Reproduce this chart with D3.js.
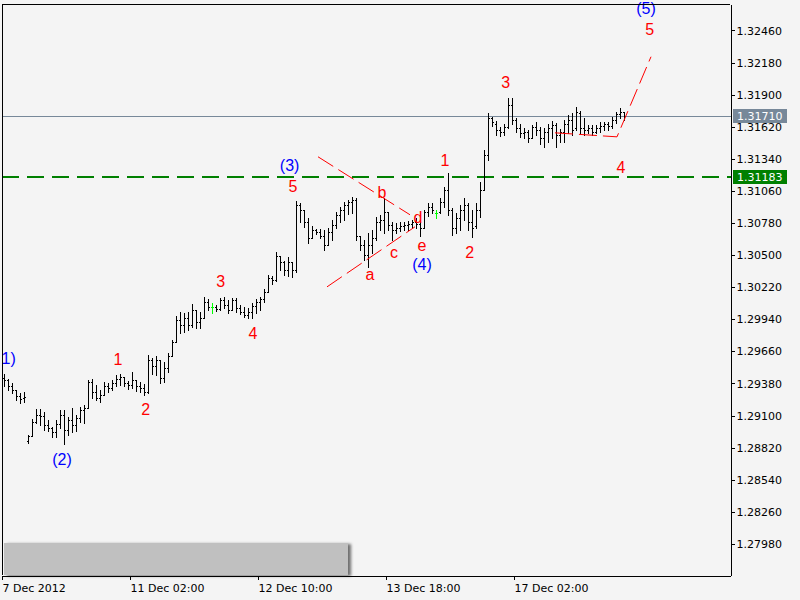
<!DOCTYPE html>
<html><head><meta charset="utf-8">
<script src="https://cdn.jsdelivr.net/npm/d3@7"></script>
<style>
html,body{margin:0;padding:0;background:#f4f4f4;}
svg{display:block;}
</style></head><body>
<svg id="chart" width="800" height="600"></svg>
<script>
// ---------- DATA ----------
const timeLabels = ["7 Dec 2012", "11 Dec 02:00", "12 Dec 10:00", "13 Dec 18:00", "17 Dec 02:00"];
const timeTickIndex = [0, 32, 64, 96, 128];
const priceTicks = [1.27980, 1.28260, 1.28540, 1.28820, 1.29100, 1.29380, 1.29660, 1.29940,
  1.30220, 1.30500, 1.30780, 1.31060, 1.31340, 1.31620, 1.31900, 1.32180, 1.32460];

const open = [
1.29429,1.29411,1.29359,1.29324,1.29272,1.29254,
1.28879,1.28923,1.29045,1.29106,1.29097,1.29019,1.28992,1.28958,1.29027,1.29106,
1.28975,1.29062,1.29019,1.29080,1.29150,1.29167,1.29394,1.29307,1.29254,1.29280,
1.29359,1.29342,1.29385,1.29420,1.29438,1.29385,1.29368,1.29411,1.29359,1.29342,
1.29307,1.29586,1.29534,1.29586,1.29429,1.29516,1.29621,1.29743,1.29935,1.29891,
1.29953,1.29891,1.30022,1.29918,1.29953,1.30092,1.30049,1.30049,1.30031,1.30110,
1.30066,1.30022,1.30110,1.30040,1.30005,1.29979,1.30005,1.30057,1.30092,1.30118,
1.30179,1.30302,1.30284,1.30494,1.30441,1.30371,1.30441,1.30371,1.30939,1.30895,
1.30790,1.30651,1.30721,1.30703,1.30668,1.30590,1.30703,1.30764,1.30852,1.30895,
1.30939,1.30965,1.30982,1.30668,1.30590,1.30502,1.30590,1.30651,1.30790,1.30808,
1.30878,1.30764,1.30721,1.30738,1.30755,1.30764,1.30773,1.30790,1.30773,1.30738,
1.30878,1.30921,1.30869,1.30878,1.30965,1.31070,1.30895,1.30738,1.30825,1.30895,
1.30939,1.30790,1.30755,1.30895,1.31070,1.31375,1.31698,1.31646,1.31593,1.31576,
1.31620,1.31812,1.31681,1.31611,1.31567,1.31576,1.31524,1.31620,1.31593,1.31524,
1.31576,1.31611,1.31637,1.31550,1.31576,1.31646,1.31681,1.31611,1.31742,1.31611,
1.31593,1.31611,1.31576,1.31611,1.31628,1.31646,1.31628,1.31681,1.31733,1.31750];

const high = [
1.29464,1.29420,1.29385,1.29324,1.29298,1.29307,
1.28931,1.29071,1.29158,1.29158,1.29132,1.29062,1.29001,1.29062,1.29150,1.29150,
1.29088,1.29167,1.29106,1.29176,1.29193,1.29411,1.29420,1.29368,1.29324,1.29394,
1.29385,1.29411,1.29455,1.29464,1.29438,1.29403,1.29481,1.29411,1.29394,1.29376,
1.29630,1.29603,1.29621,1.29586,1.29569,1.29647,1.29761,1.29970,1.30005,1.29996,
1.30005,1.30075,1.30022,1.30005,1.30136,1.30118,1.30083,1.30066,1.30127,1.30136,
1.30110,1.30127,1.30127,1.30066,1.30049,1.30040,1.30083,1.30118,1.30136,1.30206,
1.30328,1.30319,1.30529,1.30494,1.30450,1.30485,1.30441,1.30974,1.30956,1.30895,
1.30825,1.30755,1.30729,1.30729,1.30721,1.30738,1.30808,1.30878,1.30921,1.30965,
1.30982,1.31009,1.31000,1.30668,1.30633,1.30694,1.30721,1.30834,1.30852,1.31000,
1.30878,1.30790,1.30782,1.30790,1.30790,1.30799,1.30808,1.30825,1.30808,1.30895,
1.30956,1.30956,1.30895,1.31000,1.31096,1.31218,1.30913,1.30869,1.30939,1.31000,
1.30956,1.30895,1.30956,1.31140,1.31419,1.31742,1.31707,1.31672,1.31620,1.31646,
1.31873,1.31873,1.31698,1.31646,1.31611,1.31593,1.31637,1.31663,1.31620,1.31611,
1.31646,1.31672,1.31654,1.31602,1.31681,1.31724,1.31742,1.31794,1.31759,1.31698,
1.31637,1.31637,1.31637,1.31663,1.31663,1.31663,1.31707,1.31750,1.31785,1.31750];

const low = [
1.29359,1.29324,1.29298,1.29237,1.29211,1.29219,
1.28862,1.28923,1.29036,1.29019,1.28975,1.28966,1.28914,1.28914,1.28992,1.28853,
1.28931,1.28958,1.28966,1.29045,1.29036,1.29167,1.29254,1.29237,1.29219,1.29280,
1.29307,1.29324,1.29359,1.29368,1.29359,1.29333,1.29342,1.29315,1.29307,1.29280,
1.29298,1.29464,1.29455,1.29385,1.29394,1.29481,1.29621,1.29743,1.29822,1.29830,
1.29848,1.29874,1.29865,1.29865,1.29953,1.30022,1.29996,1.30014,1.30022,1.30040,
1.29996,1.30022,1.30005,1.29987,1.29961,1.29953,1.29953,1.29996,1.30022,1.30092,
1.30179,1.30249,1.30275,1.30371,1.30328,1.30319,1.30310,1.30354,1.30790,1.30747,
1.30607,1.30651,1.30686,1.30651,1.30546,1.30590,1.30633,1.30738,1.30790,1.30808,
1.30860,1.30869,1.30633,1.30546,1.30459,1.30398,1.30520,1.30633,1.30721,1.30694,
1.30721,1.30633,1.30694,1.30712,1.30721,1.30721,1.30738,1.30738,1.30668,1.30738,
1.30843,1.30869,1.30825,1.30869,1.30921,1.30852,1.30677,1.30694,1.30721,1.30808,
1.30721,1.30659,1.30738,1.30834,1.31070,1.31332,1.31628,1.31550,1.31541,1.31550,
1.31611,1.31646,1.31576,1.31532,1.31524,1.31489,1.31524,1.31550,1.31471,1.31445,
1.31489,1.31524,1.31445,1.31489,1.31489,1.31567,1.31550,1.31593,1.31567,1.31550,
1.31567,1.31550,1.31567,1.31576,1.31593,1.31593,1.31611,1.31654,1.31698,1.31681];

const close = [
1.29411,1.29359,1.29324,1.29272,1.29246,1.29263,
1.28923,1.29045,1.29106,1.29097,1.29019,1.28992,1.28958,1.29027,1.29106,1.28975,
1.29062,1.29019,1.29080,1.29150,1.29167,1.29394,1.29307,1.29254,1.29280,1.29359,
1.29342,1.29385,1.29420,1.29438,1.29385,1.29368,1.29411,1.29359,1.29342,1.29307,
1.29586,1.29534,1.29586,1.29429,1.29516,1.29621,1.29743,1.29935,1.29891,1.29953,
1.29891,1.30022,1.29918,1.29953,1.30092,1.30049,1.30049,1.30031,1.30110,1.30066,
1.30022,1.30110,1.30040,1.30005,1.29979,1.30005,1.30057,1.30092,1.30118,1.30179,
1.30302,1.30284,1.30494,1.30441,1.30371,1.30441,1.30371,1.30939,1.30895,1.30790,
1.30651,1.30721,1.30703,1.30668,1.30590,1.30703,1.30764,1.30852,1.30895,1.30939,
1.30965,1.30982,1.30668,1.30590,1.30502,1.30590,1.30651,1.30790,1.30808,1.30878,
1.30764,1.30721,1.30738,1.30755,1.30764,1.30773,1.30790,1.30773,1.30738,1.30878,
1.30921,1.30895,1.30869,1.30965,1.31070,1.30895,1.30738,1.30825,1.30895,1.30939,
1.30790,1.30738,1.30895,1.31070,1.31375,1.31698,1.31663,1.31593,1.31576,1.31620,
1.31812,1.31681,1.31611,1.31567,1.31576,1.31524,1.31620,1.31593,1.31524,1.31576,
1.31611,1.31637,1.31550,1.31576,1.31646,1.31681,1.31593,1.31750,1.31611,1.31593,
1.31611,1.31576,1.31611,1.31628,1.31646,1.31628,1.31681,1.31733,1.31750,1.31710];

const currentPrice = 1.31710;
const levelPrice = 1.31183;

// trend / projection lines: [bar index, price]
const triangleUpper = [[78.5, 1.31358], [101.5, 1.30852]];
const triangleLower = [[80.75, 1.30223], [102.75, 1.30747]];
const projection = [[137.75, 1.31567], [153.25, 1.31532], [161.75, 1.32231]];

// wave labels
const labelText   = ["(1)", "(2)", "1", "2", "3", "4", "(3)", "5", "a", "b", "c", "d", "e", "(4)", "1", "2", "3", "4", "(5)", "5"];
const labelIndex  = [0.5, 14.5, 28.5, 35.4, 54.2, 62.25, 71.4, 72.25, 91.5, 94.5, 97.5, 103.5, 104.5, 104.5, 110.25, 116.4, 125.4, 154.25, 160.5, 161.4];
const labelPrice  = [1.29551, 1.28669, 1.29542, 1.29106, 1.30223, 1.29769, 1.31236, 1.31052, 1.30284, 1.31000, 1.30476, 1.30782, 1.30537, 1.30371, 1.31279, 1.30476, 1.31960, 1.31218, 1.32606, 1.32423];
const labelDegree = ["major", "major", "minor", "minor", "minor", "minor", "major", "minor", "minor", "minor", "minor", "minor", "minor", "major", "minor", "minor", "minor", "minor", "major", "minor"];

// ---------- CHART ----------
const svg = d3.select("#chart");
const L = 2, R = 730, T = 4, B = 575;
const x = d3.scaleLinear().domain([-0.5, 181.5]).range([L, R]);
const y = d3.scaleLinear().domain([1.27709, 1.32691]).range([B, T]);

svg.append("rect").attr("width", 800).attr("height", 600).attr("fill", "#f4f4f4");

const defs = svg.append("defs");
defs.append("clipPath").attr("id", "leftclip").append("rect")
  .attr("x", L + 1).attr("y", -20).attr("width", 800).attr("height", 640);
const f = defs.append("filter").attr("id", "shadow").attr("x", "-5%").attr("y", "-20%").attr("width", "115%").attr("height", "150%");
f.append("feDropShadow").attr("dx", 3).attr("dy", 1).attr("stdDeviation", 1.5).attr("flood-color", "#000").attr("flood-opacity", 0.55);

// level lines
svg.append("line").attr("x1", L).attr("x2", R + 2)
  .attr("y1", Math.round(y(levelPrice))).attr("y2", Math.round(y(levelPrice)))
  .attr("stroke", "#008000").attr("stroke-width", 2).attr("stroke-dasharray", "17,8")
  .attr("shape-rendering", "crispEdges");
svg.append("line").attr("x1", L).attr("x2", R + 2)
  .attr("y1", Math.round(y(currentPrice)) + 0.5).attr("y2", Math.round(y(currentPrice)) + 0.5)
  .attr("stroke", "#778899").attr("stroke-width", 1);

// bars
const idx = d3.range(open.length);
const bars = svg.append("g").attr("shape-rendering", "crispEdges");
idx.forEach(i => {
  const bx = Math.round(x(i));
  const col = open[i] === close[i] ? "#00ff00" : "#000000";
  const yh = Math.round(y(high[i])), yl = Math.round(y(low[i]));
  bars.append("rect").attr("x", bx).attr("y", yh).attr("width", 1).attr("height", Math.max(1, yl - yh + 1)).attr("fill", col);
  bars.append("rect").attr("x", bx - 1).attr("y", Math.round(y(open[i]))).attr("width", 1).attr("height", 1).attr("fill", col);
  bars.append("rect").attr("x", bx + 1).attr("y", Math.round(y(close[i]))).attr("width", 1).attr("height", 1).attr("fill", col);
});

// red lines
const line = d3.line().x(d => x(d[0])).y(d => y(d[1]));
[triangleUpper, triangleLower, projection].forEach(pts => {
  svg.append("path").attr("d", line(pts)).attr("fill", "none")
    .attr("stroke", "#ff0000").attr("stroke-width", 1).attr("stroke-dasharray", "18,6");
});

// wave labels
const lg = svg.append("g").attr("clip-path", "url(#leftclip)");
labelText.forEach((t, k) => {
  lg.append("text").attr("x", x(labelIndex[k])).attr("y", y(labelPrice[k]))
    .attr("text-anchor", "middle")
    .attr("font-family", "Liberation Sans, Arial, sans-serif").attr("font-size", 16)
    .attr("fill", labelDegree[k] === "major" ? "#0000ff" : "#ff0000")
    .text(t);
});

// bottom-left panel
svg.append("rect").attr("x", 4).attr("y", 543).attr("width", 344).attr("height", 32)
  .attr("fill", "#c0c0c0").attr("filter", "url(#shadow)");

// frame
const frame = svg.append("g").attr("shape-rendering", "crispEdges");
frame.append("line").attr("x1", L).attr("x2", R).attr("y1", T + 0.5).attr("y2", T + 0.5).attr("stroke", "#000");
frame.append("line").attr("x1", L + 0.5).attr("x2", L + 0.5).attr("y1", T).attr("y2", B).attr("stroke", "#000");

// right axis
const yAxis = d3.axisRight(y).tickValues(priceTicks).tickFormat(d3.format(".5f")).tickSize(4).tickSizeOuter(0).tickPadding(2);
const ya = svg.append("g").attr("transform", `translate(${R + 0.5},0)`).call(yAxis);
ya.attr("font-family", "DejaVu Sans, sans-serif").attr("font-size", 11);
ya.selectAll("path,line").attr("stroke", "#000").attr("shape-rendering", "crispEdges");
ya.selectAll("text").attr("fill", "#000");

// bottom axis
const xt = d3.scaleLinear().domain([0, 182]).range([L, R]);
const xAxis = d3.axisBottom(xt).tickValues(timeTickIndex).tickFormat((d, k) => timeLabels[k]).tickSize(4).tickSizeOuter(0).tickPadding(5);
const xa = svg.append("g").attr("transform", `translate(0,${B + 0.5})`).call(xAxis);
xa.attr("font-family", "DejaVu Sans, sans-serif").attr("font-size", 11);
xa.selectAll("path,line").attr("stroke", "#000").attr("shape-rendering", "crispEdges");
xa.selectAll("text").attr("fill", "#000").attr("text-anchor", "start").attr("dx", 0);

// price boxes
[[currentPrice, "#778899"], [levelPrice, "#008000"]].forEach(([p, c]) => {
  const cy = y(p);
  svg.append("rect").attr("x", R + 3).attr("y", Math.round(cy) - 7).attr("width", 54).attr("height", 14).attr("fill", c)
    .attr("shape-rendering", "crispEdges");
  svg.append("text").attr("x", R + 7).attr("y", cy).attr("dy", "0.36em")
    .attr("font-family", "DejaVu Sans, sans-serif").attr("font-size", 11).attr("fill", "#fff")
    .text(d3.format(".5f")(p));
});
</script>
</body></html>
